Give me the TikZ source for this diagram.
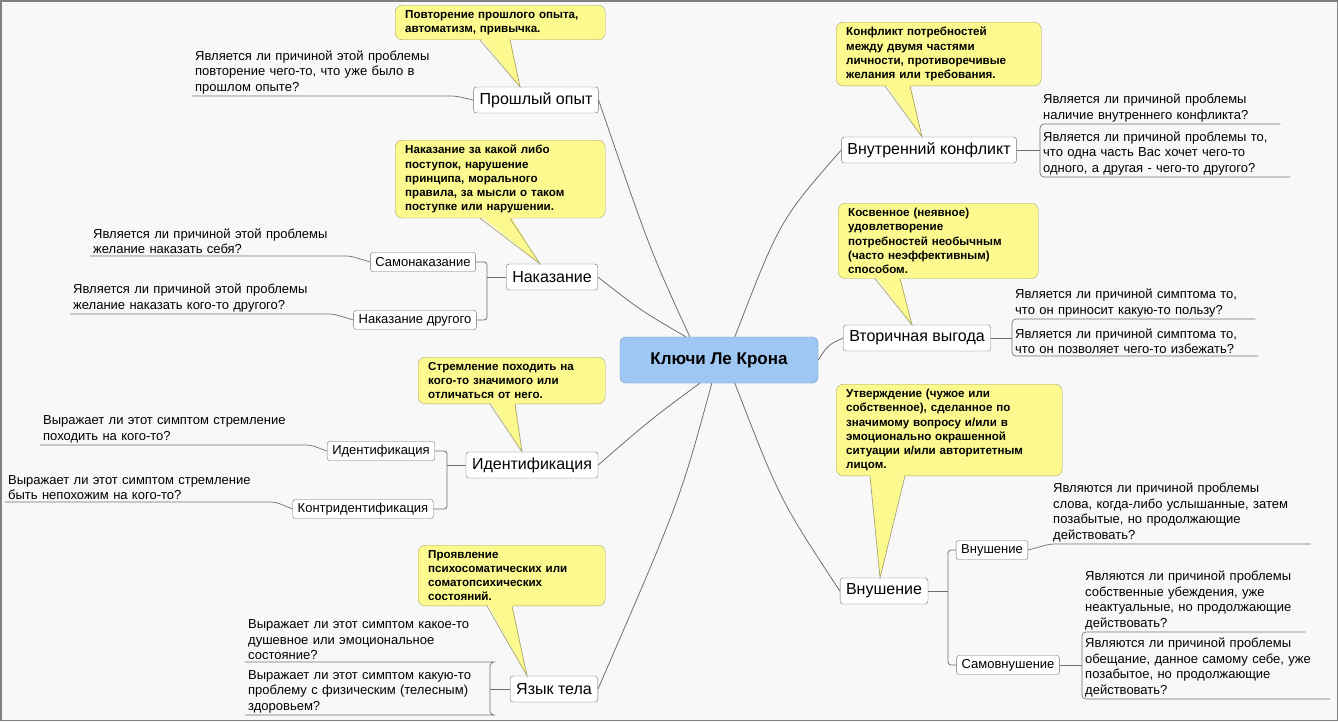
\documentclass[tikz,border=0pt]{standalone}
\usepackage{fontspec}
\setmainfont{Liberation Sans}
\usetikzlibrary{calc}
\definecolor{bg}{HTML}{F8F8F8}
\definecolor{ln}{HTML}{707070}
\definecolor{cy}{HTML}{FCFA8E}
\definecolor{cyd}{HTML}{A8A470}
\definecolor{cb}{HTML}{9EC7F3}
\definecolor{cbd}{HTML}{6E92BE}
\tikzset{
 topic/.style={draw=ln,rounded corners=3pt,fill=white,font=\fontsize{16}{19}\selectfont,inner xsep=6pt,minimum height=26pt},
 sub/.style={draw=ln,rounded corners=2.5pt,fill=white,font=\fontsize{13}{15}\selectfont,inner xsep=5pt,minimum height=19pt},
 note/.style={font=\fontsize{13}{15.5}\selectfont,align=left,inner xsep=3pt,inner ysep=2pt,anchor=south west},
 callout/.style={fill=cy,draw=cyd,rounded corners=7pt,font=\bfseries\fontsize{11.6}{14.2}\selectfont,align=left,inner xsep=10pt,inner ysep=5pt,anchor=north west},
 ul/.style={draw=ln,line width=0.7pt,rounded corners=4pt},
 cn/.style={draw=ln,line width=0.8pt}
}
\newcommand{\ptr}[4]{% callout, base offset1, base offset2, tip
 \fill[cy] ($(#1.south west)+(#2,-3)$) -- (#4) -- ($(#1.south west)+(#3,-3)$) -- cycle;
 \draw[cyd,line width=0.7pt] ($(#1.south west)+(#2,0)$) -- (#4) -- ($(#1.south west)+(#3,0)$);}
\begin{document}
\begin{tikzpicture}[x=1pt,y=-1pt]
\fill[bg] (0,0) rectangle (1338,721);
\draw[gray,line width=1.5pt] (0.75,0.75) rectangle (1337.25,720.25);
\useasboundingbox (0,0) rectangle (1338,721);

% center
\node[fill=cb,draw=cbd,rounded corners=6pt,font=\bfseries\fontsize{17}{20}\selectfont,minimum width=198pt,minimum height=46pt] (ctr) at (719,360) {Ключи Ле Крона};

% topics
\node[topic] (t1) at (536,100) {Прошлый опыт};
\node[topic] (t2) at (552,277) {Наказание};
\node[topic] (t3) at (532,465) {Идентификация};
\node[topic] (t4) at (554,689) {Язык тела};
\node[topic] (t5) at (929,150) {Внутренний конфликт};
\node[topic] (t6) at (917,338) {Вторичная выгода};
\node[topic] (t7) at (884,591) {Внушение};

% center connectors
\draw[cn] ($(ctr.north west)+(70,0)$) .. controls (650,250) .. (t1.east);
\draw[cn] ($(ctr.north west)+(66,0)$) .. controls (640,310) .. (t2.east);
\draw[cn] ($(ctr.south west)+(80,0)$) .. controls (650,420) .. (t3.east);
\draw[cn] ($(ctr.south west)+(92,0)$) .. controls (680,500) .. (t4.east);
\draw[cn] ($(ctr.north west)+(115,0)$) .. controls (780,220) .. (t5.west);
\draw[cn] (ctr.east) .. controls (828,345) .. (t6.west);
\draw[cn] ($(ctr.south west)+(115,0)$) .. controls (780,500) .. (t7.west);

% subtopics
\node[sub] (s1) at (423,262) {Самонаказание};
\node[sub] (s2) at (415,320) {Наказание другого};
\node[sub] (s3) at (381,451) {Идентификация};
\node[sub] (s4) at (363,509) {Контридентификация};
\node[sub] (s5) at (992,550) {Внушение};
\node[sub] (s6) at (1008,665) {Самовнушение};

\coordinate (j2) at (487,277);
\draw[cn] (t2.west) -- (j2);
\draw[cn,rounded corners=3pt] (s1.east) -| (j2) |- (s2.east);
\coordinate (j3) at (447,465);
\draw[cn] (t3.west) -- (j3);
\draw[cn,rounded corners=3pt] (s3.east) -| (j3) |- (s4.east);
\coordinate (j7) at (948,591);
\draw[cn] (t7.east) -- (j7);
\draw[cn,rounded corners=3pt] (s5.west) -| (j7) |- (s6.west);

% notes
\node[note,text width=257pt] (n1) at (192,96) {Является ли причиной этой проблемы\\повторение чего-то, что уже было в\\прошлом опыте?};
\draw[ul] (n1.south west) -- (n1.south east) -- (t1.west);
\node[note,text width=254pt] (n2) at (90,256) {Является ли причиной этой проблемы\\желание наказать себя?};
\draw[ul] (n2.south west) -- (n2.south east) -- (s1.west);
\node[note,text width=257pt] (n3) at (70,314) {Является ли причиной этой проблемы\\желание наказать кого-то другого?};
\draw[ul] (n3.south west) -- (n3.south east) -- (s2.west);
\node[note,text width=264pt] (n4) at (40,445) {Выражает ли этот симптом стремление\\походить на кого-то?};
\draw[ul] (n4.south west) -- (n4.south east) -- (s3.west);
\node[note,text width=264pt] (n5) at (5,502) {Выражает ли этот симптом стремление\\быть непохожим на кого-то?};
\draw[ul] (n5.south west) -- (n5.south east) -- (s4.west);

\node[note,text width=239pt] (n6) at (245,662) {Выражает ли этот симптом какое-то\\душевное или эмоциональное\\состояние?};
\node[note,text width=239pt] (n7) at (245,715) {Выражает ли этот симптом какую-то\\проблему с физическим (телесным)\\здоровьем?};
\coordinate (j4) at (490,689);
\draw[ul] (n6.south west) -- (n6.south east) -- (490,662) -- (490,715) -- (n7.south east) -- (n7.south west);
\draw[cn] (t4.west) -- (j4);

\node[note,text width=234pt] (n8) at (1040,124) {Является ли причиной проблемы\\наличие внутреннего конфликта?};
\node[note,text width=244pt] (n9) at (1040,177) {Является ли причиной проблемы то,\\что одна часть Вас хочет чего-то\\одного, а другая - чего-то другого?};
\draw[ul] (n8.south east) -- (n8.south west) -- (n9.south west) -- (n9.south east);
\draw[cn] (t5.east) -- (1040,150);

\node[note,text width=237pt] (n10) at (1012,319) {Является ли причиной симптома то,\\что он приносит какую-то пользу?};
\node[note,text width=240pt] (n11) at (1012,356) {Является ли причиной симптома то,\\что он позволяет чего-то избежать?};
\draw[ul] (n10.south east) -- (n10.south west) -- (n11.south west) -- (n11.south east);
\draw[cn] (t6.east) -- (1012,338);

\node[note,text width=254pt] (n12) at (1050,544) {Являются ли причиной проблемы\\слова, когда-либо услышанные, затем\\позабытые, но продолжающие\\действовать?};
\draw[ul] (s5.east) -- (n12.south west) -- (n12.south east);

\node[note,text width=217pt] (n13) at (1082,632) {Являются ли причиной проблемы\\собственные убеждения, уже\\неактуальные, но продолжающие\\действовать?};
\node[note,text width=242pt] (n14) at (1082,699) {Являются ли причиной проблемы\\обещание, данное самому себе, уже\\позабытое, но продолжающие\\действовать?};
\draw[ul] (n13.south east) -- (n13.south west) -- (n14.south west) -- (n14.south east);
\draw[cn] (s6.east) -- (1082,665);

% callouts
\node[callout,text width=190pt] (c1) at (395,5) {Повторение прошлого опыта,\\автоматизм, привычка.};
\ptr{c1}{85}{115}{$(t1.north)+(-16,0)$}
\node[callout,text width=190pt] (c2) at (395,140) {Наказание за какой либо\\поступок, нарушение\\принципа, морального\\правила, за мысли о таком\\поступке или нарушении.};
\ptr{c2}{85}{115}{$(t2.north)+(-12,0)$}
\node[callout,text width=167pt] (c3) at (418,357) {Стремление походить на\\кого-то значимого или\\отличаться от него.};
\ptr{c3}{72}{97}{$(t3.north)+(-10,0)$}
\node[callout,text width=167pt] (c4) at (418,545) {Проявление\\психосоматических или\\соматопсихических\\состояний.};
\ptr{c4}{69}{94}{$(t4.north)+(-27,0)$}
\node[callout,text width=185pt] (c5) at (836,22) {Конфликт потребностей\\между двумя частями\\личности, противоречивые\\желания или требования.};
\ptr{c5}{49}{74}{$(t5.north)+(-7,0)$}
\node[callout,text width=180pt] (c6) at (838,203) {Косвенное (неявное)\\удовлетворение\\потребностей необычным\\(часто неэффективным)\\способом.};
\ptr{c6}{37}{62}{$(t6.north)+(-5,0)$}
\node[callout,text width=206pt] (c7) at (836,384) {Утверждение (чужое или\\собственное), сделанное по\\значимому вопросу и/или в\\эмоционально окрашенной\\ситуации и/или авторитетным\\лицом.};
\ptr{c7}{34}{69}{$(t7.north)+(-4,0)$}
\end{tikzpicture}
\end{document}
